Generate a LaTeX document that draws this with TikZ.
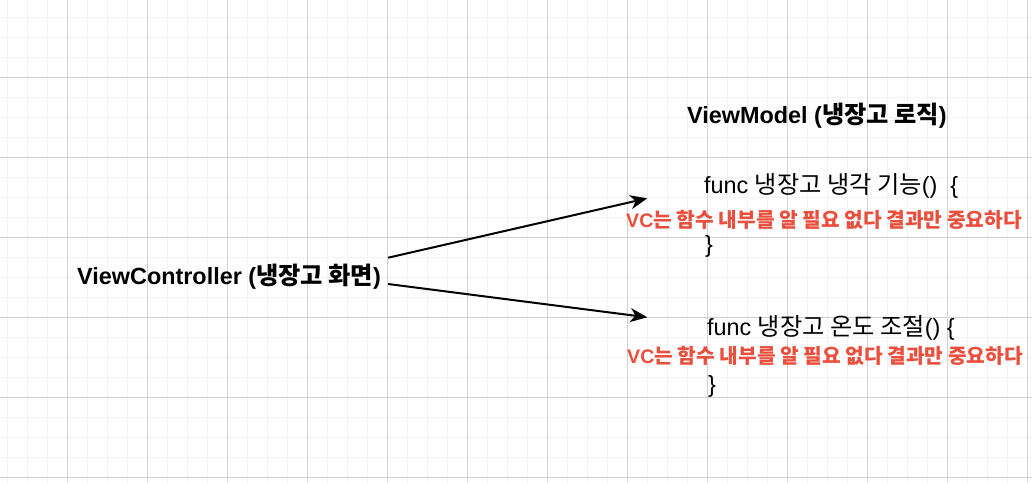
\documentclass[tikz,border=0pt]{standalone}
\usepackage{fontspec}
\setmainfont{Liberation Sans}
\newfontfamily\kr[Scale=1.035]{Noto Sans CJK KR}
\usetikzlibrary{arrows.meta}
\definecolor{notered}{RGB}{234,79,61}
\definecolor{gridminor}{RGB}{243,243,243}
\definecolor{gridmajor}{RGB}{210,210,210}

\begin{document}
\begin{tikzpicture}[x=1pt, y=-1pt, >={Stealth[length=17pt,width=14pt,inset=5pt]}]
\tikzset{
    title/.style={font=\bfseries\fontsize{23.4}{28}\selectfont, inner sep=0pt, anchor=base west},
    code/.style={font=\fontsize{23.4}{28}\selectfont, inner sep=0pt, anchor=base west},
    note/.style={font=\bfseries\fontsize{19.6}{24}\selectfont, text=notered, inner sep=0pt, anchor=base west},
    call/.style={->, line width=2pt},
  }
\useasboundingbox[fill=white] (0,0) rectangle (1032,482);
% grid
\foreach \x in {7.3,27.3,...,1031} \draw[gridminor, line width=1pt] (\x,0) -- (\x,482);
\foreach \y in {17.3,37.3,...,481} \draw[gridminor, line width=1pt] (0,\y) -- (1032,\y);
\foreach \x in {67.3,147.3,...,1031} \draw[gridmajor, line width=1pt] (\x,0) -- (\x,482);
\foreach \y in {77.3,157.3,...,481} \draw[gridmajor, line width=1pt] (0,\y) -- (1032,\y);

\node (vc) [title] at (77,284) {ViewController ({\kr 냉장고 화면})};
\node (vm) [title] at (687,123.3) {ViewModel ({\kr 냉장고 로직})};

\node (cool) [code] at (704,193.3) {func {\kr 냉장고 냉각 기능}()~ \{};
\node (cool_note) [note] at (626,227.5) {VC{\kr 는 함수 내부를 알 필요 없다 결과만 중요하다}};
\node (cool_end) [code] at (705,252) {\}};

\node (temp) [code] at (707,335) {func {\kr 냉장고 온도 조절}() \{};
\node (temp_note) [note] at (627,363) {VC{\kr 는 함수 내부를 알 필요 없다 결과만 중요하다}};
\node (temp_end) [code] at (708,392) {\}};

\coordinate (cool_in) at (647.3,198.3);
\coordinate (temp_in) at (647.3,317.3);
\draw[call] ([xshift=7pt,yshift=26.3pt]vc.base east) -- (cool_in);
\draw[call] ([xshift=7pt]vc.base east) -- (temp_in);
\end{tikzpicture}
\end{document}
